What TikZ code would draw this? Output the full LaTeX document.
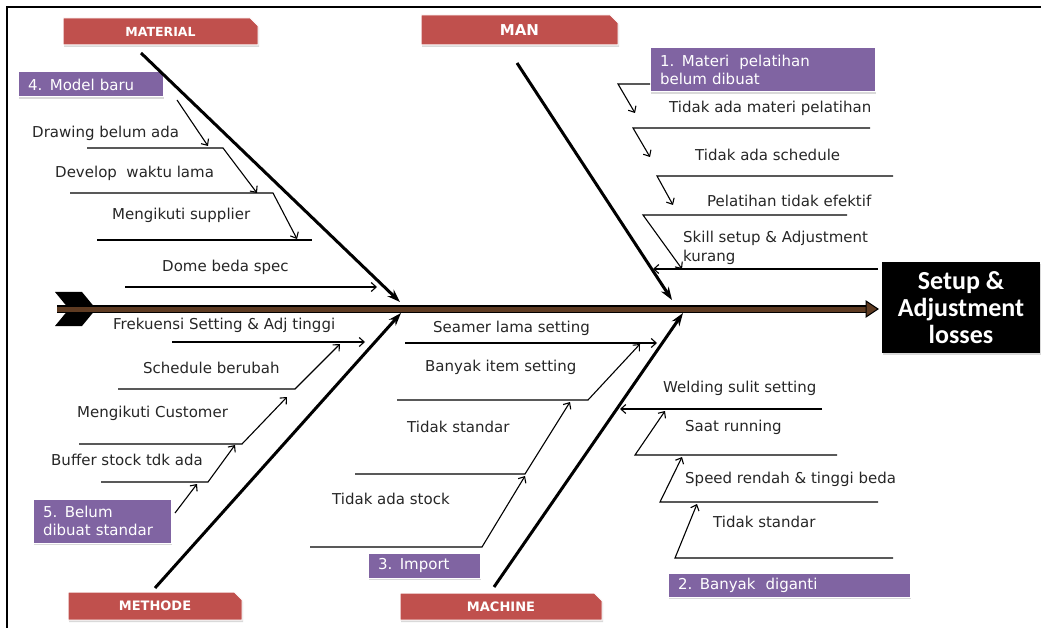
\documentclass[tikz,border=0pt]{standalone}
\usepackage{fontspec}
\setmainfont{DejaVu Sans}
\newfontfamily\calfont{Carlito}
\usetikzlibrary{arrows.meta,shapes.misc,shadows}

\definecolor{catred}{HTML}{C0504D}
\definecolor{rootviolet}{HTML}{8064A2}
\definecolor{spinebrown}{HTML}{5E3B22}

\begin{document}
\begin{tikzpicture}[x=1pt,y=-1pt,>={Straight Barb[length=5pt,width=9pt]},
    cause/.style={anchor=west,inner sep=0pt,text=black!85,
                  font=\fontsize{15}{19}\selectfont},
    category/.style={chamfered rectangle,chamfered rectangle corners=north east,
                  chamfered rectangle xsep=4pt,fill=catred,draw=white,line width=1pt,
                  text=white,inner sep=0pt,
                  drop shadow={shadow xshift=1pt,shadow yshift=-2pt,opacity=.3}},
    root/.style={rectangle,fill=rootviolet,draw=white,line width=1pt,text=white,
                  align=left,inner xsep=10pt,inner ysep=0pt,
                  font=\fontsize{15}{18}\selectfont,
                  drop shadow={shadow xshift=1pt,shadow yshift=-2pt,opacity=.3}},
    bone/.style={line width=3pt,-{Stealth[length=13pt,width=9pt]}},
    twig/.style={line width=1.1pt}]

  \useasboundingbox (0,0) rectangle (1041,628);
  \draw[line width=1.5pt] (7,628) -- (7,7) -- (1041,7);

  % named points of the bones
  \foreach \n/\x/\y in {bm1/141/53, bm2/400/302, bn1/517/63, bn2/672/300,
                        bt1/155/588, bt2/401/313, bc1/494/587, bc2/683/313,
                        tail/57/309, neck/866/309, head/878/309,
                        m4a/177/100, m4b/208/146,
                        ma1/87/148, ma2/223/148, ma3/257/193,
                        mb1/70/193, mb2/273/193, mb3/297/239,
                        mc1/97/240, mc2/312/240, md1/125/287, md2/377/287,
                        n1a/650/84, n1b/618/84, n1c/635/113,
                        na1/870/128, na2/633/128, na3/650/157,
                        nb1/893/176, nb2/657/176, nb3/673/205,
                        nc1/847/215, nc2/643/215, nc3/682/269,
                        nd1/878/269, nd2/653/269,
                        t5a/175/513, t5b/197/484, ta1/172/342, ta2/365/342,
                        tb1/118/389, tb2/295/389, tb3/340/344,
                        tc1/79/444, tc2/242/444, tc3/287/397,
                        td1/101/482, td2/208/482, td3/235/445,
                        ca1/405/343, ca2/657/343,
                        cb1/397/400, cb2/588/400, cb3/640/344,
                        cc1/355/474, cc2/525/474, cc3/570/402,
                        cd1/310/547, cd2/482/547, cd3/525/476,
                        ce1/822/409, ce2/620/409,
                        cf1/837/455, cf2/635/455, cf3/665/411,
                        cg1/878/502, cg2/660/502, cg3/682/457,
                        ch1/893/558, ch2/675/558, ch3/697/504}
    \coordinate (\n) at (\x,\y);

  % spine
  \fill (55,292) -- (82,292) -- (96,309) -- (82,326) -- (55,326) -- (69,309) -- cycle;
  \draw[line width=8pt] (tail) -- (neck);
  \draw[spinebrown,line width=5pt] (tail) -- (neck);
  \draw[fill=spinebrown,line width=1pt] (neck) ++(0,-8) -- (head) -- (866,317) -- cycle;

  \node[fill=black,text=white,align=center,minimum width=158pt,minimum height=91pt,
        font=\calfont\bfseries\fontsize{26}{27}\selectfont,
        drop shadow={shadow xshift=1pt,shadow yshift=-2pt,opacity=.3}]
        (effect) at (961,307.5) {Setup \&\\Adjustment\\losses};

  % categories
  \node[category,minimum width=195pt,minimum height=27pt,font=\bfseries\fontsize{12.5}{14}\selectfont]
        (material) at (160.5,31.5) {MATERIAL};
  \node[category,minimum width=197pt,minimum height=30pt,font=\bfseries\fontsize{15}{17}\selectfont]
        (man) at (519.5,30) {MAN};
  \node[category,minimum width=174pt,minimum height=28pt,font=\bfseries\fontsize{13}{15}\selectfont]
        (methode) at (155,606) {METHODE};
  \node[category,minimum width=202pt,minimum height=27pt,font=\bfseries\fontsize{13}{15}\selectfont]
        (machine) at (501,606.5) {MACHINE};

  % root causes
  \node[root,text width=125pt,minimum height=25pt] (root4) at (90.5,84.5) {4. Model baru};
  \node[root,text width=205pt,minimum height=44pt] (root1) at (762.5,70) {1. Materi~ pelatihan\\belum dibuat};
  \node[root,text width=118pt,minimum height=44pt] (root5) at (102,521) {5. Belum\\dibuat standar};
  \node[root,text width=92pt,minimum height=25pt]  (root3) at (424,565.5) {3. Import};
  \node[root,text width=222pt,minimum height=24pt] (root2) at (789,585) {2. Banyak~ diganti};

  % causes
  \node[cause] (draw)     at (32,133)  {Drawing belum ada};
  \node[cause] (develop)  at (55,173)  {Develop~ waktu lama};
  \node[cause] (supplier) at (112,215) {Mengikuti supplier};
  \node[cause] (dome)     at (162,267) {Dome beda spec};

  \node[cause] (materi)   at (669,108) {Tidak ada materi pelatihan};
  \node[cause] (schedule) at (695,155) {Tidak ada schedule};
  \node[cause] (efektif)  at (707,201) {Pelatihan tidak efektif};
  \node[cause,align=left] (skill) at (683,248) {Skill setup \& Adjustment\\kurang};

  \node[cause] (frek)     at (113,325) {Frekuensi Setting \& Adj tinggi};
  \node[cause] (berubah)  at (143,368) {Schedule berubah};
  \node[cause] (customer) at (77,413)  {Mengikuti Customer};
  \node[cause] (buffer)   at (51,460)  {Buffer stock tdk ada};

  \node[cause] (seamer)   at (433,328) {Seamer lama setting};
  \node[cause] (item)     at (425,367) {Banyak item setting};
  \node[cause] (std1)     at (407,427) {Tidak standar};
  \node[cause] (stock)    at (332,499) {Tidak ada stock};
  \node[cause] (welding)  at (663,388) {Welding sulit setting};
  \node[cause] (running)  at (685,427) {Saat running};
  \node[cause] (speed)    at (685,479) {Speed rendah \& tinggi beda};
  \node[cause] (std2)     at (713,522) {Tidak standar};

  % main bones
  \draw[bone] (bm1) -- (bm2);
  \draw[bone] (bn1) -- (bn2);
  \draw[bone] (bt1) -- (bt2);
  \draw[bone] (bc1) -- (bc2);

  % sub bones
  \draw[twig,->] (m4a) -- (m4b);
  \draw[twig,->] (ma1) -- (ma2) -- (ma3);
  \draw[twig,->] (mb1) -- (mb2) -- (mb3);
  \draw[twig]    (mc1) -- (mc2);
  \draw[twig,->] (md1) -- (md2);

  \draw[twig,->] (n1a) -- (n1b) -- (n1c);
  \draw[twig,->] (na1) -- (na2) -- (na3);
  \draw[twig,->] (nb1) -- (nb2) -- (nb3);
  \draw[twig,->] (nc1) -- (nc2) -- (nc3);
  \draw[twig,->] (nd1) -- (nd2);

  \draw[twig,->] (t5a) -- (t5b);
  \draw[twig,->] (ta1) -- (ta2);
  \draw[twig,->] (tb1) -- (tb2) -- (tb3);
  \draw[twig,->] (tc1) -- (tc2) -- (tc3);
  \draw[twig,->] (td1) -- (td2) -- (td3);

  \draw[twig,->] (ca1) -- (ca2);
  \draw[twig,->] (cb1) -- (cb2) -- (cb3);
  \draw[twig,->] (cc1) -- (cc2) -- (cc3);
  \draw[twig,->] (cd1) -- (cd2) -- (cd3);
  \draw[twig,->] (ce1) -- (ce2);
  \draw[twig,->] (cf1) -- (cf2) -- (cf3);
  \draw[twig,->] (cg1) -- (cg2) -- (cg3);
  \draw[twig,->] (ch1) -- (ch2) -- (ch3);
\end{tikzpicture}
\end{document}
